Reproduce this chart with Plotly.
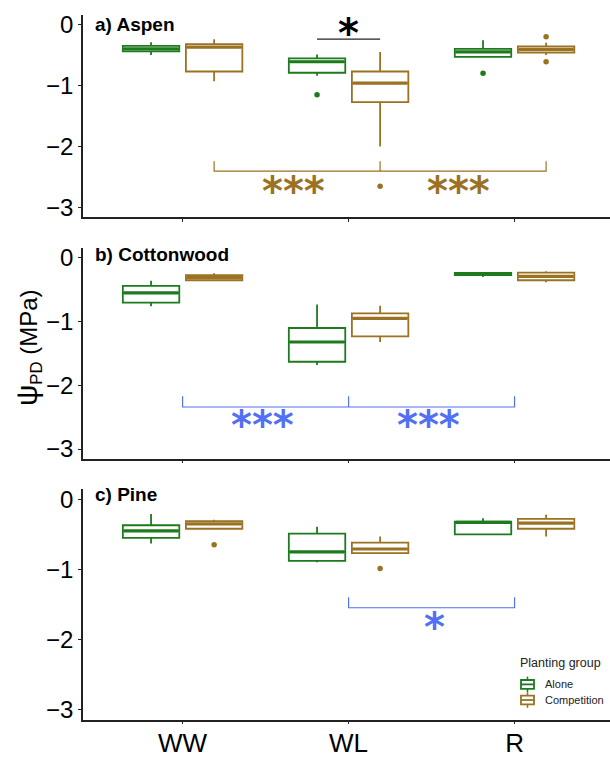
import plotly.graph_objects as go

# ---------------- data ----------------
treatments = ["WW", "WL", "R"]
groups = ["Alone", "Competition"]
panels = ["a) Aspen", "b) Cottonwood", "c) Pine"]

# box statistics per panel, in order [WW, WL, R]
aspen_alone = dict(lf=[-0.50, -0.84, -0.53], q1=[-0.44, -0.79, -0.53], med=[-0.40, -0.61, -0.45], q3=[-0.35, -0.555, -0.40], uf=[-0.29, -0.49, -0.26])
aspen_comp = dict(lf=[-0.93, -2.00, -0.50], q1=[-0.77, -1.27, -0.46], med=[-0.37, -0.96, -0.41], q3=[-0.32, -0.77, -0.36], uf=[-0.24, -0.45, -0.30])
cotton_alone = dict(lf=[-0.76, -1.68, -0.30], q1=[-0.70, -1.63, -0.27], med=[-0.55, -1.32, -0.255], q3=[-0.44, -1.10, -0.235], uf=[-0.36, -0.73, -0.22])
cotton_comp = dict(lf=[-0.36, -1.32, -0.38], q1=[-0.35, -1.23, -0.35], med=[-0.31, -0.95, -0.29], q3=[-0.27, -0.87, -0.23], uf=[-0.24, -0.75, -0.21])
pine_alone = dict(lf=[-0.63, -0.90, -0.50], q1=[-0.55, -0.88, -0.50], med=[-0.45, -0.75, -0.33], q3=[-0.37, -0.49, -0.32], uf=[-0.21, -0.39, -0.27])
pine_comp = dict(lf=[-0.42, -0.77, -0.53], q1=[-0.42, -0.77, -0.42], med=[-0.35, -0.71, -0.34], q3=[-0.31, -0.62, -0.28], uf=[-0.29, -0.53, -0.22])

# outliers: (treatment index, value)
aspen_alone_out = [(1, -1.15), (2, -0.80)]
aspen_comp_out = [(1, -2.65), (2, -0.20), (2, -0.61)]
cotton_alone_out = []
cotton_comp_out = []
pine_alone_out = []
pine_comp_out = [(0, -0.65), (1, -0.99)]

# significance marks
sig_a = dict(bracket=([1.19, 2.19, 3.19], -2.40, -2.24), stars=[(1.67, -2.64, "***"), (2.66, -2.64, "***")], color="brown",
             pair=([1.81, 2.19], -0.24, (2.0, -0.05, "*")))
sig_b = dict(bracket=([1.0, 2.0, 3.0], -2.34, -2.17), stars=[(1.48, -2.55, "***"), (2.48, -2.55, "***")], color="blue")
sig_c = dict(bracket=([2.0, 3.0], -1.55, -1.40), stars=[(2.52, -1.75, "*")], color="blue")

title_y = [0.0, 0.05, 0.07]

GREEN = "#1d7a1d"
BROWN = "#9a7222"
BLUE = "#5270f4"
colors = {"Alone": GREEN, "Competition": BROWN, "brown": BROWN, "blue": BLUE}

panel_data = [
    (aspen_alone, aspen_comp, aspen_alone_out, aspen_comp_out, sig_a),
    (cotton_alone, cotton_comp, cotton_alone_out, cotton_comp_out, sig_b),
    (pine_alone, pine_comp, pine_alone_out, pine_comp_out, sig_c),
]

# ---------------- layout geometry ----------------
W, H = 610, 758
panel_px = [(11.6, 217.7), (250.0, 465.0), (496.0, 732.0)]  # top, bottom in px
x_left_px = 83.0
DODGE = 0.19
BW = 0.34
STAR_FONT = dict(family="DejaVu Sans", size=40)
STAR_SHIFT = -5

fig = go.Figure()

for p, (alone, comp, a_out, c_out, sig) in enumerate(panel_data):
    xa = "x" if p == 0 else f"x{p+1}"
    ya = "y" if p == 0 else f"y{p+1}"
    for g, st, outs, off in ((0, alone, a_out, -DODGE), (1, comp, c_out, DODGE)):
        col = colors[groups[g]]
        xs = [i + 1 + off for i in range(3)]
        fig.add_trace(go.Box(
            x=xs, q1=st["q1"], median=st["med"], q3=st["q3"],
            lowerfence=st["lf"], upperfence=st["uf"],
            width=BW, whiskerwidth=0, fillcolor="white",
            line=dict(color=col, width=1.8),
            name=groups[g], showlegend=False,
            xaxis=xa, yaxis=ya, hoverinfo="skip",
        ))
        # thicker median line (ggplot fatten)
        mx, my = [], []
        for i in range(3):
            mx += [xs[i] - BW / 2 + 0.006, xs[i] + BW / 2 - 0.006, None]
            my += [st["med"][i], st["med"][i], None]
        fig.add_trace(go.Scatter(x=mx, y=my, mode="lines", line=dict(color=col, width=3.2),
                                 showlegend=False, xaxis=xa, yaxis=ya, hoverinfo="skip"))
        if outs:
            fig.add_trace(go.Scatter(
                x=[t + 1 + off for t, v in outs], y=[v for t, v in outs], mode="markers",
                marker=dict(color=col, size=5.5), showlegend=False, xaxis=xa, yaxis=ya, hoverinfo="skip"))

    # significance bracket
    bxs, by, bt = sig["bracket"]
    scol = colors[sig["color"]]
    lx, ly = [bxs[0], bxs[0], bxs[-1], bxs[-1], None], [bt, by, by, bt, None]
    for mxv in bxs[1:-1]:
        lx += [mxv, mxv, None]
        ly += [bt, by, None]
    fig.add_trace(go.Scatter(x=lx, y=ly, mode="lines", line=dict(color=scol, width=1.2),
                             showlegend=False, xaxis=xa, yaxis=ya, hoverinfo="skip"))
    for sx, sy, txt in sig["stars"]:
        fig.add_annotation(x=sx, y=sy, xref=xa, yref=ya, text=f"<b>{txt}</b>", showarrow=False,
                           font=dict(color=scol, **STAR_FONT), yanchor="middle", yshift=STAR_SHIFT)
    if "pair" in sig:
        pxs, py, (tx, ty, tt) = sig["pair"]
        fig.add_trace(go.Scatter(x=pxs, y=[py, py], mode="lines", line=dict(color="#222", width=1.2),
                                 showlegend=False, xaxis=xa, yaxis=ya, hoverinfo="skip"))
        fig.add_annotation(x=tx, y=ty, xref=xa, yref=ya, text=f"<b>{tt}</b>", showarrow=False,
                           font=dict(color="black", **STAR_FONT), yanchor="middle", yshift=STAR_SHIFT)

    # panel title
    fig.add_annotation(x=0.462, y=title_y[p], xref=xa, yref=ya, text=f"<b>{panels[p]}</b>", showarrow=False,
                       xanchor="left", yanchor="middle",
                       font=dict(family="Liberation Sans", size=19, color="black"))

    top, bot = panel_px[p]
    dom = [1 - bot / H, 1 - top / H]
    axis_common = dict(showgrid=False, zeroline=False, showline=True, linecolor="#222", linewidth=1.5,
                       ticks="outside", ticklen=3, tickcolor="#222", tickwidth=1)
    xdef = dict(domain=[x_left_px / W, 1], range=[0.4, 3.575], anchor=ya,
                tickvals=[1, 2, 3], ticktext=treatments, showticklabels=(p == 2),
                tickfont=dict(family="Liberation Sans", size=26, color="black"), **axis_common)
    if p == 2:
        xdef["ticklabelstandoff"] = -4
    fig.layout[("xaxis" if p == 0 else f"xaxis{p+1}")] = xdef
    fig.layout[("yaxis" if p == 0 else f"yaxis{p+1}")] = dict(
        domain=dom, range=[-3.15, 0.15], anchor=xa,
        tickvals=[0, -1, -2, -3], ticktext=["0", "−1", "−2", "−3"],
        tickfont=dict(family="Liberation Sans", size=24, color="black"), **axis_common)

# y-axis title
fig.add_annotation(x=28 / W, y=1 - 352 / H, xref="paper", yref="paper",
                   text="<span style='font-size:30px'>ψ</span><sub>PD</sub> (MPa)",
                   textangle=-90, showarrow=False, xanchor="center", yanchor="middle",
                   font=dict(family="Liberation Sans", size=24, color="black"))

# legend (drawn as a guide: title, key glyphs, labels)
LEG_X = 520
LEG_TITLE_Y = 674
LEG_ROWS = [696, 712]
fig.add_annotation(x=(LEG_X - 2) / W, y=1 - LEG_TITLE_Y / H, xref="paper", yref="paper", text="Planting group",
                   showarrow=False, xanchor="left", yanchor="middle",
                   font=dict(family="Liberation Sans", size=12.5, color="#222"))
for g, ry in zip(groups, LEG_ROWS):
    col = colors[g]
    x0, x1 = LEG_X + 1, LEG_X + 14
    xc = (x0 + x1) / 2
    fig.add_shape(type="line", xref="paper", yref="paper", x0=xc / W, x1=xc / W,
                  y0=1 - (ry - 8) / H, y1=1 - (ry + 8) / H, line=dict(color=col, width=1.5))
    fig.add_shape(type="rect", xref="paper", yref="paper", x0=x0 / W, x1=x1 / W,
                  y0=1 - (ry - 4.5) / H, y1=1 - (ry + 4.5) / H, line=dict(color=col, width=1.8),
                  fillcolor="white")
    fig.add_shape(type="line", xref="paper", yref="paper", x0=x0 / W, x1=x1 / W,
                  y0=1 - ry / H, y1=1 - ry / H, line=dict(color=col, width=1.8))
    fig.add_annotation(x=(LEG_X + 23) / W, y=1 - ry / H, xref="paper", yref="paper", text=g,
                       showarrow=False, xanchor="left", yanchor="middle",
                       font=dict(family="Liberation Sans", size=11, color="#222"))

fig.update_layout(
    width=W, height=H, margin=dict(l=0, r=0, t=0, b=0),
    paper_bgcolor="white", plot_bgcolor="white", showlegend=False,
)

fig.write_html("out.html")
